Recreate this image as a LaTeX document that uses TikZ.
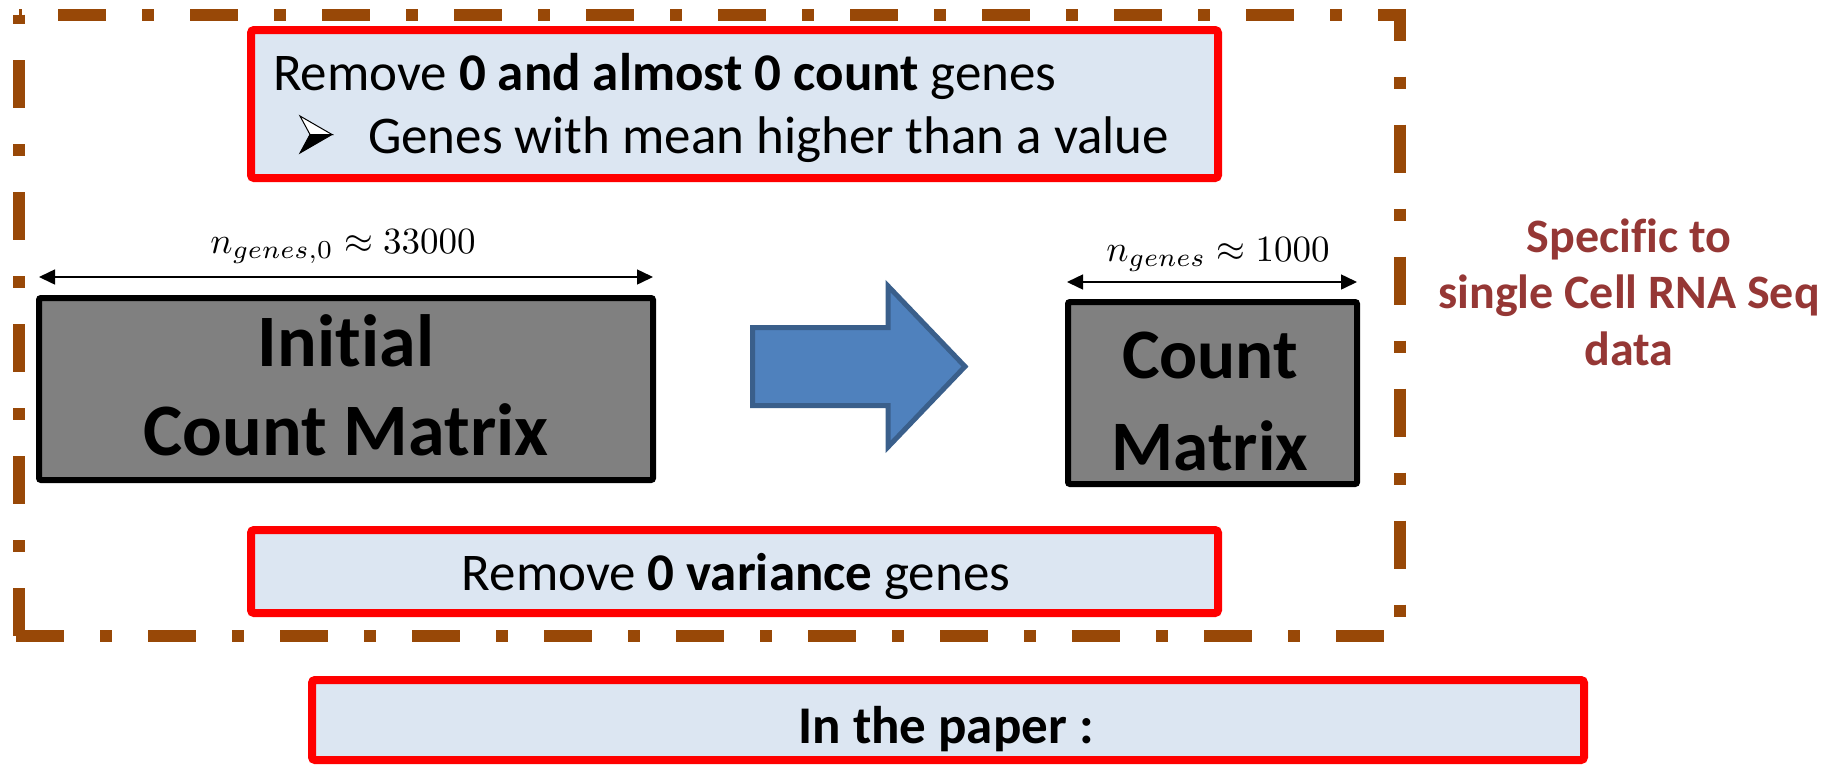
\documentclass[tikz,border=0pt]{standalone}
\usepackage{fontspec}
\setmainfont{Carlito}[Ligatures=NoCommon]
\usetikzlibrary{arrows.meta}
\definecolor{framebrown}{HTML}{984807}
\definecolor{boxred}{HTML}{FF0000}
\definecolor{boxfill}{HTML}{DCE6F2}
\definecolor{arrowfill}{HTML}{4F81BD}
\definecolor{arrowline}{HTML}{3A5F8B}
\definecolor{noteRed}{HTML}{953735}
\definecolor{matgray}{HTML}{808080}
\begin{document}
\begin{tikzpicture}[x=1pt,y=-1pt,
  redbox/.style={rectangle, draw=boxred, line width=8pt, fill=boxfill, rounded corners=3pt, inner sep=0pt},
  matbox/.style={rectangle, draw=black, line width=6pt, fill=matgray, rounded corners=2pt, inner sep=0pt},
  txt/.style={inner sep=0pt, outer sep=0pt},
  bodytext/.style={txt, font=\fontsize{53}{64}\selectfont},
  mattext/.style={txt, font=\fontsize{#1}{#1}\selectfont\bfseries},
  spectext/.style={txt, text=noteRed, font=\fontsize{48}{58}\selectfont\bfseries},
  dimtext/.style={txt, scale=3.7, font=\fontsize{10}{12}\selectfont},
  dimarrow/.style={line width=1.5pt, {Triangle[length=16pt,width=15pt]}-{Triangle[length=16pt,width=15pt]}},
  framedash/.style={draw=framebrown, line width=12pt, dash pattern=on 12pt off 36pt on 48pt off 36pt},
  bigarrow/.style={fill=arrowfill, draw=arrowline, line width=5pt, line join=miter},
]
\useasboundingbox (0,0) rectangle (1836,764);

% dash-dot frame
\draw[framedash, dash phase=9pt, line join=miter] (19,14.5) -- (1400,14.5) -- (1400,636) -- (13,636);
\draw[framedash, dash phase=2.5pt] (19,14.5) -- (19,636);

% top red box
\node[redbox, minimum width=967pt, minimum height=148pt] (topbox) at (734.5,104) {};
\node[bodytext, anchor=base west] (topline1) at (273,90) {Remove \textbf{0 and almost 0 count} genes};
\filldraw[fill=white, draw=black, line width=1pt, line join=miter] (300,116) -- (332,134.5) -- (310,134.5) -- cycle;
\filldraw[black, line width=1pt, line join=miter] (310,134.5) -- (332,134.5) -- (300,153) -- cycle;
\node[bodytext, anchor=base west] (topline2) at (368,153) {Genes with mean higher than a value};

% initial matrix
\node[matbox, minimum width=614pt, minimum height=182pt] (initbox) at (346,389) {};
\node[mattext=74, anchor=base] (init1) at (346,366) {Initial};
\node[mattext=74, anchor=base] (init2) at (346,455) {Count Matrix};
\coordinate (dimL1) at (39,277);
\coordinate (dimL2) at (653,277);
\draw[dimarrow] (dimL1) -- (dimL2);
\node[dimtext, anchor=base] (labL) at (343,253) {$n_{genes,0}\approx 33000$};

% big arrow
\draw[bigarrow] (752.5,327.5) -- (888,327.5) -- (888,286) -- (965,366.5) -- (888,447) -- (888,405.5) -- (752.5,405.5) -- cycle;

% final matrix
\node[matbox, minimum width=289pt, minimum height=182pt] (finbox) at (1212.5,393) {};
\node[mattext=71, anchor=base] (fin1) at (1210,378) {Count};
\node[mattext=71, anchor=base] (fin2) at (1210,470) {Matrix};
\coordinate (dimR1) at (1067,282);
\coordinate (dimR2) at (1357,282);
\draw[dimarrow] (dimR1) -- (dimR2);
\node[dimtext, anchor=base] (labR) at (1218,261) {$n_{genes}\approx 1000$};

% side note
\node[spectext, anchor=base] (spec1) at (1629,252) {Specific to};
\node[spectext, anchor=base] (spec2) at (1629,308) {single Cell RNA Seq};
\node[spectext, anchor=base] (spec3) at (1629,365) {data};

% bottom boxes
\node[redbox, minimum width=967pt, minimum height=83pt] (varbox) at (734.5,571.5) {};
\node[bodytext, anchor=base] (vartext) at (736,590) {Remove \textbf{0 variance} genes};
\node[redbox, minimum width=1272pt, minimum height=80pt] (paperbox) at (948,720) {};
\node[bodytext, anchor=base] (papertext) at (946,743) {\textbf{In the paper :}};
\end{tikzpicture}
\end{document}
